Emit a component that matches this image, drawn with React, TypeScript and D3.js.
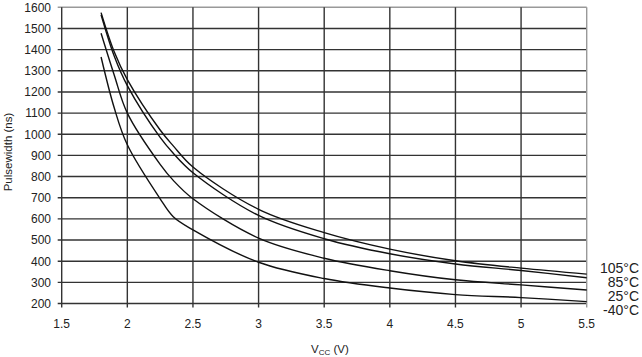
import React from "react";
import * as d3 from "d3";

const voltages = [1.8, 1.9, 2.0, 2.25, 2.35, 2.5, 3.0, 3.5, 4.0, 4.5, 5.0, 5.5];
const t105 = [1575, 1390, 1258, 1020, 945, 845, 645, 535, 457, 402, 367, 339];
const t85 = [1565, 1370, 1230, 985, 910, 818, 616, 506, 435, 387, 356, 322];
const t25 = [1477, 1280, 1100, 858, 782, 695, 509, 414, 355, 312, 288, 264];
const tm40 = [1365, 1125, 950, 695, 610, 548, 395, 318, 273, 242, 228, 209];
const seriesLabels = ["105°C", "85°C", "25°C", "-40°C"];
const seriesValues = [t105, t85, t25, tm40];
const xTicks = [1.5, 2, 2.5, 3, 3.5, 4, 4.5, 5, 5.5];
const yTicks = [200, 300, 400, 500, 600, 700, 800, 900, 1000, 1100, 1200, 1300, 1400, 1500, 1600];

const W = 642;
const H = 357;
const L = 61.7;
const R = 586.7;
const T = 7.3;
const B = 303.5;
const font = "'Liberation Sans', Arial, Helvetica, sans-serif";

export default function App() {
  const x = d3.scaleLinear().domain([1.5, 5.5]).range([L, R]);
  const y = d3.scaleLinear().domain([200, 1600]).range([B, T]);
  const line = d3
    .line<number>()
    .x((_, i) => x(voltages[i]))
    .y((v) => y(v))
    .curve(d3.curveCatmullRom.alpha(0.5));
  const labelBaselines = [273, 287, 301, 315];

  return (
    <svg
      width={W}
      height={H}
      style={{ position: "absolute", left: 0, top: 0, background: "#fff" }}
      fontFamily={font}
    >
      <rect x={0} y={0} width={W} height={H} fill="#fff" />
      {yTicks.map((t) => (
        <g key={"y" + t}>
          <line
            x1={L - 4}
            x2={R}
            y1={y(t)}
            y2={y(t)}
            stroke={t === 1600 ? "#999" : "#333"}
            strokeWidth={1.4}
          />
          <text x={51} y={y(t)} dy="0.36em" textAnchor="end" fontSize={12} fill="#222">
            {t}
          </text>
        </g>
      ))}
      {xTicks.map((t) => (
        <g key={"x" + t}>
          <line
            x1={x(t)}
            x2={x(t)}
            y1={T}
            y2={B + 4}
            stroke={t === 5.5 ? "#999" : "#333"}
            strokeWidth={1.4}
          />
          <text x={x(t)} y={327.5} textAnchor="middle" fontSize={12} fill="#222">
            {t}
          </text>
        </g>
      ))}
      {seriesValues.map((s, i) => (
        <path key={"s" + i} d={line(s) || ""} fill="none" stroke="#111" strokeWidth={1.4} />
      ))}
      {seriesLabels.map((lab, i) => (
        <text key={"l" + i} x={639} y={labelBaselines[i]} textAnchor="end" fontSize={14} fill="#222">
          {lab}
        </text>
      ))}
      <text x={330} y={353} textAnchor="middle" fontSize={11.5} fill="#222">
        <tspan>V</tspan>
        <tspan fontSize={8} dy={2}>CC</tspan>
        <tspan dy={-2}> (V)</tspan>
      </text>
      <text
        transform={`translate(12,152) rotate(-90)`}
        textAnchor="middle"
        fontSize={11.5}
        fill="#222"
      >
        Pulsewidth (ns)
      </text>
    </svg>
  );
}
